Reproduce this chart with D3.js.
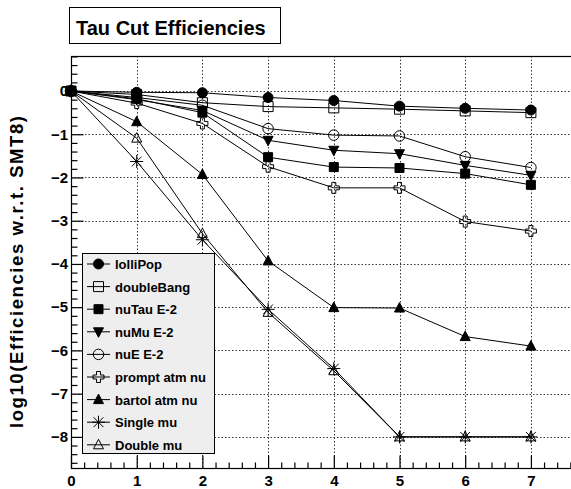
<!DOCTYPE html>
<html>
<head>
<meta charset="utf-8">
<script src="https://cdn.jsdelivr.net/npm/d3@7"></script>
<style>
  html, body { margin: 0; padding: 0; background: #fff; }
  svg { display: block; font-family: "Liberation Sans", Arial, Helvetica, sans-serif; font-weight: bold; }
</style>
</head>
<body>
<svg id="chart" width="571" height="489"></svg>
<script>
// Cut levels on the x axis
const cuts = [0, 1, 2, 3, 4, 5, 6, 7];

// log10 of efficiency relative to SMT8, one array per sample
const lolliPop    = [0, -0.03, -0.04, -0.15, -0.22, -0.35, -0.40, -0.44];
const doubleBang  = [0, -0.08, -0.27, -0.36, -0.39, -0.42, -0.46, -0.50];
const nuTau       = [0, -0.18, -0.50, -1.53, -1.76, -1.78, -1.91, -2.17];
const nuMu        = [0, -0.20, -0.45, -1.14, -1.37, -1.45, -1.72, -1.95];
const nuE         = [0, -0.15, -0.33, -0.87, -1.02, -1.04, -1.52, -1.77];
const promptAtm   = [0, -0.28, -0.75, -1.75, -2.24, -2.24, -3.02, -3.24];
const bartolAtm   = [0, -0.71, -1.93, -3.93, -5.01, -5.02, -5.68, -5.90];
const singleMu    = [0, -1.63, -3.44, -5.05, -6.42, -8.00, -8.00, -8.00];
const doubleMu    = [0, -1.09, -3.30, -5.12, -6.47, -8.00, -8.00, -8.00];

const seriesNames = ["lolliPop", "doubleBang", "nuTau E-2", "nuMu E-2", "nuE E-2",
                     "prompt atm nu", "bartol atm nu", "Single mu", "Double mu"];
const seriesValues = [lolliPop, doubleBang, nuTau, nuMu, nuE, promptAtm, bartolAtm, singleMu, doubleMu];
const seriesMarkers = ["circleFilled", "squareOpen", "squareFilled", "triDownFilled", "circleOpen",
                       "crossOpen", "triUpFilled", "asterisk", "triUpOpen"];

const yTickValues = [0, -1, -2, -3, -4, -5, -6, -7, -8];
const xTickValues = [0, 1, 2, 3, 4, 5, 6, 7];

const svg = d3.select("#chart");

// Frame geometry
const frameLeft = 71, frameTop = 56, frameBottom = 468;
const xMax = 7.7, yTop = 0.81, yBottom = -8.72;
const x = d3.scaleLinear().domain([0, xMax]).range([frameLeft, frameLeft + xMax * 65.7]);
const y = d3.scaleLinear().domain([yTop, yBottom]).range([frameTop, frameBottom]);

// Dotted grid
const grid = svg.append("g").attr("stroke", "#333").attr("stroke-width", 1)
  .attr("stroke-dasharray", "1.5,2");
xTickValues.filter(d => d > 0).forEach(d => {
  grid.append("line").attr("x1", Math.round(x(d)) + 0.5).attr("x2", Math.round(x(d)) + 0.5)
    .attr("y1", frameTop).attr("y2", frameBottom);
});
yTickValues.forEach(d => {
  grid.append("line").attr("x1", frameLeft).attr("x2", 571)
    .attr("y1", Math.round(y(d)) + 0.5).attr("y2", Math.round(y(d)) + 0.5);
});

// Frame
svg.append("rect").attr("x", frameLeft + 0.5).attr("y", frameTop + 0.5)
  .attr("width", x(xMax) - frameLeft).attr("height", frameBottom - frameTop)
  .attr("fill", "none").attr("stroke", "#000").attr("stroke-width", 1.2);

// Y axis ticks (drawn inward)
const yAxis = d3.axisRight(y)
  .tickValues(d3.range(-43, 5).map(i => i * 0.2).filter(v => v >= yBottom && v <= yTop))
  .tickSizeInner(6).tickSizeOuter(0).tickFormat("");
const gy = svg.append("g").attr("transform", `translate(${frameLeft + 0.5},0)`).call(yAxis);
gy.select(".domain").remove();
gy.selectAll(".tick line").attr("x2", d => Math.abs(d - Math.round(d)) < 1e-6 ? 12 : 6)
  .attr("stroke-width", 1.2);

const yLabels = d3.axisLeft(y).tickValues(yTickValues).tickSize(0).tickPadding(3)
  .tickFormat(d3.format("d"));
const gyl = svg.append("g").attr("transform", `translate(${frameLeft},0)`).call(yLabels);
gyl.select(".domain").remove();
gyl.selectAll("text").attr("font-size", 15).attr("font-weight", "bold")
  .attr("font-family", "Liberation Sans, Arial, sans-serif").attr("fill", "#000");

// X axis ticks (drawn upward)
const xAxis = d3.axisTop(x)
  .tickValues(d3.range(0, 39).map(i => i * 0.2).filter(v => v <= xMax))
  .tickSizeInner(6).tickSizeOuter(0).tickFormat("");
const gx = svg.append("g").attr("transform", `translate(0,${frameBottom + 0.5})`).call(xAxis);
gx.select(".domain").remove();
gx.selectAll(".tick line").attr("y2", d => Math.abs(d - Math.round(d)) < 1e-6 ? -13 : -6)
  .attr("stroke-width", 1.2);

const xLabels = d3.axisBottom(x).tickValues(xTickValues).tickSize(0).tickPadding(0)
  .tickFormat(d3.format("d"));
const gxl = svg.append("g").attr("transform", `translate(0,${frameBottom})`).call(xLabels);
gxl.select(".domain").remove();
gxl.selectAll("text").attr("font-size", 15).attr("font-weight", "bold")
  .attr("font-family", "Liberation Sans, Arial, sans-serif").attr("fill", "#000")
  .attr("dy", null).attr("y", 18);

// Y axis title
svg.append("text")
  .attr("transform", `translate(23,272) rotate(-90)`)
  .attr("text-anchor", "middle").attr("font-size", 18.5).attr("fill", "#000")
  .attr("textLength", 312).attr("lengthAdjust", "spacing")
  .text("log10(Efficiencies w.r.t.  SMT8)");

// Marker shapes
function markerPath(kind, s) {
  const h = s / 2;
  switch (kind) {
    case "circleFilled": case "circleOpen":
      return d3.symbol(d3.symbolCircle, Math.PI * h * h)();
    case "squareFilled": case "squareOpen":
      return `M${-h},${-h}H${h}V${h}H${-h}Z`;
    case "triUpFilled": case "triUpOpen":
      return `M0,${-h * 1.1}L${h},${h * 0.8}L${-h},${h * 0.8}Z`;
    case "triDownFilled":
      return `M0,${h * 1.1}L${h},${-h * 0.8}L${-h},${-h * 0.8}Z`;
    case "crossOpen": {
      const a = h * 0.36;
      return `M${-a},${-h}H${a}V${-a}H${h}V${a}H${a}V${h}H${-a}V${a}H${-h}V${-a}H${-a}Z`;
    }
    case "asterisk": {
      const d = h * 0.75;
      return `M${-h},0H${h}M0,${-h}V${h}M${-d},${-d}L${d},${d}M${-d},${d}L${d},${-d}`;
    }
  }
}
const markerSize = {
  circleFilled: 10, circleOpen: 10.5, squareFilled: 9, squareOpen: 10,
  triUpFilled: 10, triUpOpen: 10, triDownFilled: 10, crossOpen: 11, asterisk: 13
};
function drawMarker(g, kind, cx, cy) {
  const filled = kind.endsWith("Filled");
  g.append("path").attr("d", markerPath(kind, markerSize[kind]))
    .attr("transform", `translate(${cx},${cy})`)
    .attr("fill", filled ? "#000" : "none")
    .attr("stroke", "#000").attr("stroke-width", 1);
}

// Series: connecting line, then markers
const line = d3.line().x((d, i) => x(cuts[i])).y(d => y(d));
seriesValues.forEach((vals, k) => {
  const g = svg.append("g");
  g.append("path").datum(vals).attr("d", line)
    .attr("fill", "none").attr("stroke", "#000").attr("stroke-width", 1);
  vals.forEach((v, i) => drawMarker(g, seriesMarkers[k], x(cuts[i]), y(v)));
});

// Legend
const lg = svg.append("g");
lg.append("rect").attr("x", 82.5).attr("y", 253.5).attr("width", 132).attr("height", 200)
  .attr("fill", "#eeeeee").attr("stroke", "#000").attr("stroke-width", 1);
seriesNames.forEach((name, i) => {
  const cy = 264 + i * 22.6;
  lg.append("line").attr("x1", 87).attr("x2", 110).attr("y1", cy).attr("y2", cy)
    .attr("stroke", "#000").attr("stroke-width", 1);
  drawMarker(lg, seriesMarkers[i], 98.5, cy);
  lg.append("text").attr("x", 115).attr("y", cy + 5).attr("font-size", 13)
    .attr("fill", "#000").text(name);
});

// Title box
svg.append("rect").attr("x", 69.5).attr("y", 7.5).attr("width", 211).attr("height", 36)
  .attr("fill", "#fff").attr("stroke", "#000").attr("stroke-width", 1);
svg.append("text").attr("x", 76).attr("y", 35).attr("font-size", 20).attr("fill", "#000")
  .text("Tau Cut Efficiencies");
</script>
</body>
</html>
